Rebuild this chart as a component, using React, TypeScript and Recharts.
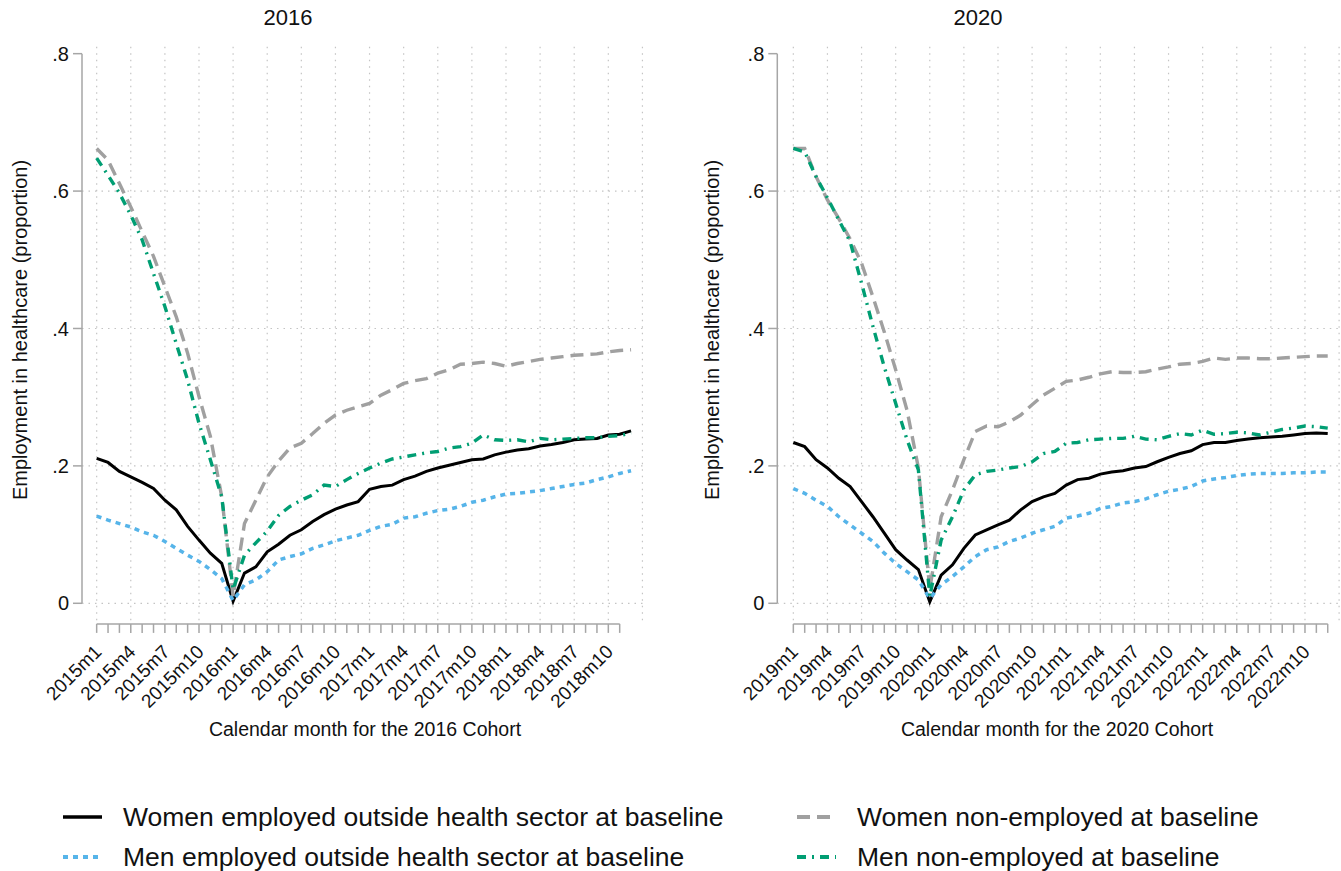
import React from "react"
import { CartesianGrid, Line, LineChart, ReferenceLine, XAxis, YAxis } from "recharts"

// month labels shown every 3 months
const ticks2016 = ["2015m1","2015m4","2015m7","2015m10","2016m1","2016m4","2016m7","2016m10","2017m1","2017m4","2017m7","2017m10","2018m1","2018m4","2018m7","2018m10"]
const ticks2020 = ["2019m1","2019m4","2019m7","2019m10","2020m1","2020m4","2020m7","2020m10","2021m1","2021m4","2021m7","2021m10","2022m1","2022m4","2022m7","2022m10"]

// 2016 cohort, 48 months (2015m1 .. 2018m12)
const womenEmp2016 = [0.211,0.205,0.192,0.184,0.176,0.167,0.150,0.136,0.112,0.092,0.073,0.058,0.003,0.044,0.053,0.075,0.086,0.099,0.107,0.119,0.129,0.137,0.143,0.148,0.166,0.170,0.172,0.180,0.185,0.192,0.197,0.201,0.205,0.209,0.210,0.216,0.220,0.223,0.225,0.229,0.231,0.234,0.238,0.239,0.240,0.245,0.246,0.251]
const menEmp2016 = [0.127,0.121,0.116,0.111,0.104,0.099,0.090,0.080,0.070,0.061,0.049,0.036,0.004,0.027,0.034,0.046,0.063,0.068,0.072,0.080,0.085,0.091,0.095,0.099,0.106,0.112,0.115,0.124,0.126,0.131,0.135,0.137,0.141,0.147,0.150,0.155,0.159,0.160,0.162,0.164,0.167,0.170,0.173,0.175,0.180,0.184,0.189,0.193]
const womenNon2016 = [0.662,0.645,0.611,0.577,0.541,0.505,0.461,0.417,0.364,0.301,0.243,0.155,0.010,0.116,0.150,0.184,0.207,0.226,0.233,0.247,0.262,0.274,0.281,0.286,0.291,0.303,0.311,0.320,0.324,0.327,0.335,0.340,0.348,0.349,0.351,0.349,0.345,0.349,0.352,0.355,0.357,0.359,0.361,0.362,0.363,0.366,0.368,0.369]
const menNon2016 = [0.648,0.623,0.597,0.565,0.529,0.480,0.432,0.378,0.325,0.262,0.209,0.155,0.020,0.070,0.088,0.105,0.128,0.141,0.150,0.158,0.172,0.170,0.180,0.189,0.197,0.204,0.210,0.213,0.216,0.219,0.221,0.226,0.228,0.233,0.245,0.238,0.237,0.238,0.235,0.240,0.238,0.239,0.240,0.241,0.241,0.243,0.244,0.248]

// 2020 cohort, 48 months (2019m1 .. 2022m12)
const womenEmp2020 = [0.234,0.228,0.209,0.197,0.182,0.170,0.148,0.126,0.102,0.078,0.063,0.049,0.002,0.041,0.056,0.080,0.0995,0.107,0.114,0.121,0.136,0.148,0.155,0.160,0.172,0.180,0.182,0.188,0.191,0.193,0.197,0.199,0.206,0.2125,0.218,0.222,0.231,0.234,0.234,0.237,0.239,0.241,0.242,0.243,0.245,0.247,0.248,0.247]
const menEmp2020 = [0.167,0.160,0.150,0.141,0.126,0.114,0.102,0.090,0.073,0.058,0.046,0.034,0.007,0.027,0.039,0.053,0.068,0.078,0.082,0.090,0.095,0.102,0.107,0.112,0.124,0.127,0.131,0.138,0.141,0.146,0.148,0.152,0.158,0.163,0.166,0.170,0.178,0.181,0.183,0.186,0.188,0.189,0.189,0.189,0.190,0.190,0.191,0.191]
const womenNon2020 = [0.662,0.662,0.621,0.587,0.560,0.530,0.495,0.446,0.395,0.340,0.281,0.197,0.020,0.126,0.165,0.209,0.250,0.258,0.257,0.264,0.274,0.289,0.303,0.313,0.323,0.325,0.329,0.334,0.337,0.336,0.336,0.337,0.341,0.344,0.348,0.349,0.352,0.357,0.355,0.357,0.357,0.356,0.356,0.357,0.358,0.359,0.360,0.360]
const menNon2020 = [0.662,0.657,0.621,0.590,0.558,0.526,0.466,0.403,0.344,0.291,0.238,0.194,0.010,0.092,0.126,0.165,0.187,0.192,0.194,0.197,0.199,0.206,0.218,0.221,0.233,0.234,0.238,0.239,0.240,0.240,0.243,0.239,0.238,0.243,0.247,0.245,0.252,0.246,0.247,0.249,0.248,0.245,0.249,0.253,0.255,0.258,0.257,0.255]

const yTicks = [0, 0.2, 0.4, 0.6, 0.8]
const gridY = [0, 0.2, 0.4, 0.6]
const gridX = [0, 3, 6, 9, 12, 15, 18, 21, 24, 27, 30, 33, 36, 39, 42, 45, 48]

const FONT = '"Liberation Sans", Arial, sans-serif'
const AXIS = "#a6a6a6"

const series = [
  { key: "womenEmp", name: "Women employed outside health sector at baseline", color: "#000000", width: 3, dash: undefined },
  { key: "menEmp", name: "Men employed outside health sector at baseline", color: "#56B4E9", width: 3.5, dash: "5 5" },
  { key: "womenNon", name: "Women non-employed at baseline", color: "#A0A0A0", width: 3.4, dash: "13 7" },
  { key: "menNon", name: "Men non-employed at baseline", color: "#009E73", width: 3.4, dash: "9 6 2 6" },
]

function MonthTick(props: any) {
  const { x, y, payload, labels } = props
  const i = payload.value
  const label = i % 3 === 0 ? labels[i / 3] : null
  const ax = x + 6
  const ay = y + 29
  return (
    <g>
      <line x1={x} y1={y} x2={x} y2={y + 9} stroke={AXIS} strokeWidth={1.5} />
      {label && (
        <text x={ax} y={ay} textAnchor="end" fontSize={19} fill="#111" fontFamily={FONT}
          transform={`rotate(-45, ${ax}, ${ay})`}>
          {label}
        </text>
      )}
    </g>
  )
}

function Panel({ left, width, yAxisW, xMin, lastTick, labels, a, b, c, d }: any) {
  const data = a.map((v: number, i: number) => ({ i, womenEmp: v, menEmp: b[i], womenNon: c[i], menNon: d[i] }))
  const ticks = Array.from({ length: lastTick + 1 }, (_, k) => k)
  return (
    <div style={{ position: "absolute", left, top: 0 }}>
      <LineChart width={width} height={760} data={data}
        margin={{ top: 46.8, right: width - yAxisW - (48.1 - xMin) * 11.37, left: 0, bottom: 0 }}>
        <CartesianGrid horizontalValues={gridY} verticalValues={gridX} stroke="#c4c4c4"
          strokeDasharray="1.5 5" strokeWidth={1.2} />
        <XAxis dataKey="i" type="number" domain={[xMin, 48.1]} allowDataOverflow ticks={ticks} interval={0}
          axisLine={false} tickLine={false} tickSize={0} tickMargin={0} height={136.1}
          tick={<MonthTick labels={labels} />} />
        <YAxis type="number" domain={[-0.03, 0.81]} allowDataOverflow ticks={yTicks} interval={0} width={yAxisW}
          axisLine={false} tickLine={{ stroke: AXIS, strokeWidth: 1.5 }} tickSize={9} tickMargin={4}
          tick={{ fontSize: 20, fill: "#111", fontFamily: FONT }}
          tickFormatter={(v: number) => (v === 0 ? "0" : String(v).replace("0.", "."))} />
        <ReferenceLine segment={[{ x: xMin, y: 0 }, { x: xMin, y: 0.8 }]} stroke={AXIS} strokeWidth={1.5} ifOverflow="visible" />
        <ReferenceLine segment={[{ x: 0, y: -0.03 }, { x: lastTick, y: -0.03 }]} stroke={AXIS} strokeWidth={1.5} ifOverflow="visible" />
        {series.map((s) => (
          <Line key={s.key} type="linear" dataKey={s.key} stroke={s.color} strokeWidth={s.width}
            strokeDasharray={s.dash} dot={false} activeDot={false} isAnimationActive={false} />
        ))}
      </LineChart>
    </div>
  )
}

function LegendItem({ s, x, y }: any) {
  return (
    <div style={{ position: "absolute", left: x, top: y - 16, height: 32, display: "flex", alignItems: "center" }}>
      <svg width={60} height={32}>
        <line x1={0} y1={16} x2={39} y2={16} stroke={s.color} strokeWidth={s.width + 0.6} strokeDasharray={s.dash} />
      </svg>
      <span style={{ fontSize: 26.5, color: "#111", whiteSpace: "nowrap" }}>{s.name}</span>
    </div>
  )
}

const text = (style: any, content: string) => (
  <div style={{ position: "absolute", whiteSpace: "nowrap", color: "#111", ...style }}>{content}</div>
)

export default function App() {
  return (
    <div style={{ position: "absolute", left: 0, top: 0, width: 1341, height: 871, background: "#fff", fontFamily: FONT, overflow: "hidden" }}>
      <Panel left={0} width={670} yAxisW={82} xMin={-1.29} lastTick={46} labels={ticks2016}
        a={womenEmp2016} b={menEmp2016} c={womenNon2016} d={menNon2016} />
      <Panel left={670} width={671} yAxisW={107.3} xMin={-1.41} lastTick={47} labels={ticks2020}
        a={womenEmp2020} b={menEmp2020} c={womenNon2020} d={menNon2020} />

      {text({ left: 288, top: 5, fontSize: 22, transform: "translateX(-50%)" }, "2016")}
      {text({ left: 978, top: 5, fontSize: 22, transform: "translateX(-50%)" }, "2020")}

      {text({ left: 20, top: 330, fontSize: 20, transform: "translate(-50%, -50%) rotate(-90deg)" }, "Employment in healthcare (proportion)")}
      {text({ left: 712, top: 330, fontSize: 20, transform: "translate(-50%, -50%) rotate(-90deg)" }, "Employment in healthcare (proportion)")}

      {text({ left: 365, top: 718, fontSize: 19.5, transform: "translateX(-50%)" }, "Calendar month for the 2016 Cohort")}
      {text({ left: 1057, top: 718, fontSize: 19.5, transform: "translateX(-50%)" }, "Calendar month for the 2020 Cohort")}

      <LegendItem s={series[0]} x={63} y={817} />
      <LegendItem s={series[1]} x={63} y={857} />
      <LegendItem s={series[2]} x={797} y={817} />
      <LegendItem s={series[3]} x={797} y={857} />
    </div>
  )
}
